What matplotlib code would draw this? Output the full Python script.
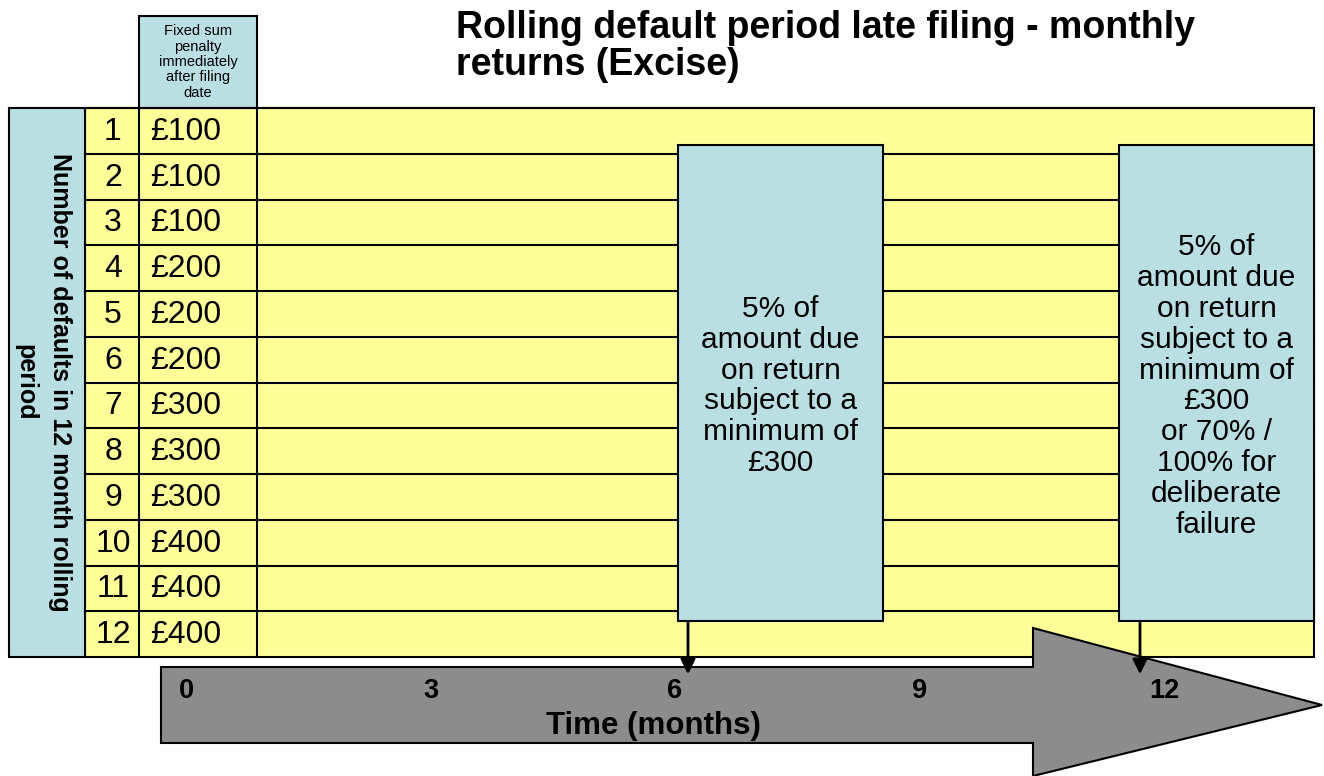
import matplotlib.pyplot as plt
import matplotlib.patches as mpatches

# data
defaults = [1, 2, 3, 4, 5, 6, 7, 8, 9, 10, 11, 12]
penalties = [100, 100, 100, 200, 200, 200, 300, 300, 300, 400, 400, 400]
month_ticks = [0, 3, 6, 9, 12]
box_months = [6, 12]
box_texts = [
    "5% of\namount due\non return\nsubject to a\nminimum of\n£300",
    "5% of\namount due\non return\nsubject to a\nminimum of\n£300\nor 70% /\n100% for\ndeliberate\nfailure",
]

YELLOW = "#FFFF99"
BLUE = "#B9DFE3"
GREY = "#8C8C8C"
FONT = "Liberation Sans"

fig = plt.figure(figsize=(13.24, 7.76), dpi=100)
ax = fig.add_axes([0, 0, 1, 1])
ax.set_xlim(0, 1324)
ax.set_ylim(776, 0)
ax.axis("off")

top, bottom = 108, 657
row_h = (bottom - top) / len(defaults)


def mx(m):
    # month -> horizontal pixel position on the time arrow
    return 186 + 81.5 * m


# yellow table background
ax.add_patch(mpatches.Rectangle((85, top), 1314 - 85, bottom - top,
                                facecolor=YELLOW, edgecolor="black", lw=1.5))
for i, (n, p) in enumerate(zip(defaults, penalties)):
    y = top + i * row_h
    ax.plot([85, 1314], [y, y], color="black", lw=1.5)
    yc = y + row_h / 2 + 1
    ax.text(113, yc, str(n), ha="center", va="center", fontsize=23, family=FONT)
    ax.text(150, yc, f"£{p}", ha="left", va="center", fontsize=23, family=FONT)
ax.plot([139, 139], [top, bottom], color="black", lw=1.5)
ax.plot([257, 257], [top, bottom], color="black", lw=1.5)

# left label column
ax.add_patch(mpatches.Rectangle((9, top), 85 - 9, bottom - top,
                                facecolor=BLUE, edgecolor="black", lw=1.5))
ax.text(43, (top + bottom) / 2, "Number of defaults in 12 month rolling\nperiod",
        rotation=-90, ha="center", va="center", fontsize=18,
        fontweight="bold", family=FONT, linespacing=1.55)

# header box
ax.add_patch(mpatches.Rectangle((139, 16), 257 - 139, top - 16,
                                facecolor=BLUE, edgecolor="black", lw=1.5))
ax.text(198, 62, "Fixed sum\npenalty\nimmediately\nafter filing\ndate",
        ha="center", va="center", fontsize=10.5, family=FONT, linespacing=1.12)

# title
ax.text(456, 10, "Rolling default period late filing - monthly\nreturns (Excise)",
        ha="left", va="top", fontsize=27, fontweight="bold", family=FONT,
        linespacing=1.02)

# time arrow
arrow = mpatches.Polygon(
    [(161, 667), (1033, 667), (1033, 628), (1322, 705),
     (1033, 776), (1033, 743), (161, 743)],
    closed=True, facecolor=GREY, edgecolor="black", lw=1.5)
ax.add_patch(arrow)
for m in month_ticks:
    ax.text(mx(m), 691, str(m), ha="center", va="center", fontsize=19.5,
            fontweight="bold", family=FONT)
ax.text(653, 726, "Time (months)", ha="center", va="center", fontsize=22.5,
        fontweight="bold", family=FONT)

# penalty boxes, with the pointer arrow near the left edge of each
box_x0 = [678, 1119]
box_w = [205, 195]
arrow_x = [688, 1140]
for txt, x0, w, axx in zip(box_texts, box_x0, box_w, arrow_x):
    ax.add_patch(mpatches.Rectangle((x0, 145), w, 621 - 145,
                                    facecolor=BLUE, edgecolor="black", lw=1.5,
                                    zorder=3))
    ax.text(x0 + w / 2, 386, txt, ha="center", va="center", fontsize=21.5,
            family=FONT, linespacing=1.13, zorder=4)
    ax.annotate("", xy=(axx, 677), xytext=(axx, 620),
                arrowprops=dict(arrowstyle="-|>", color="black", lw=2,
                                mutation_scale=22),
                zorder=5)

fig.savefig("out.png", dpi=100)
